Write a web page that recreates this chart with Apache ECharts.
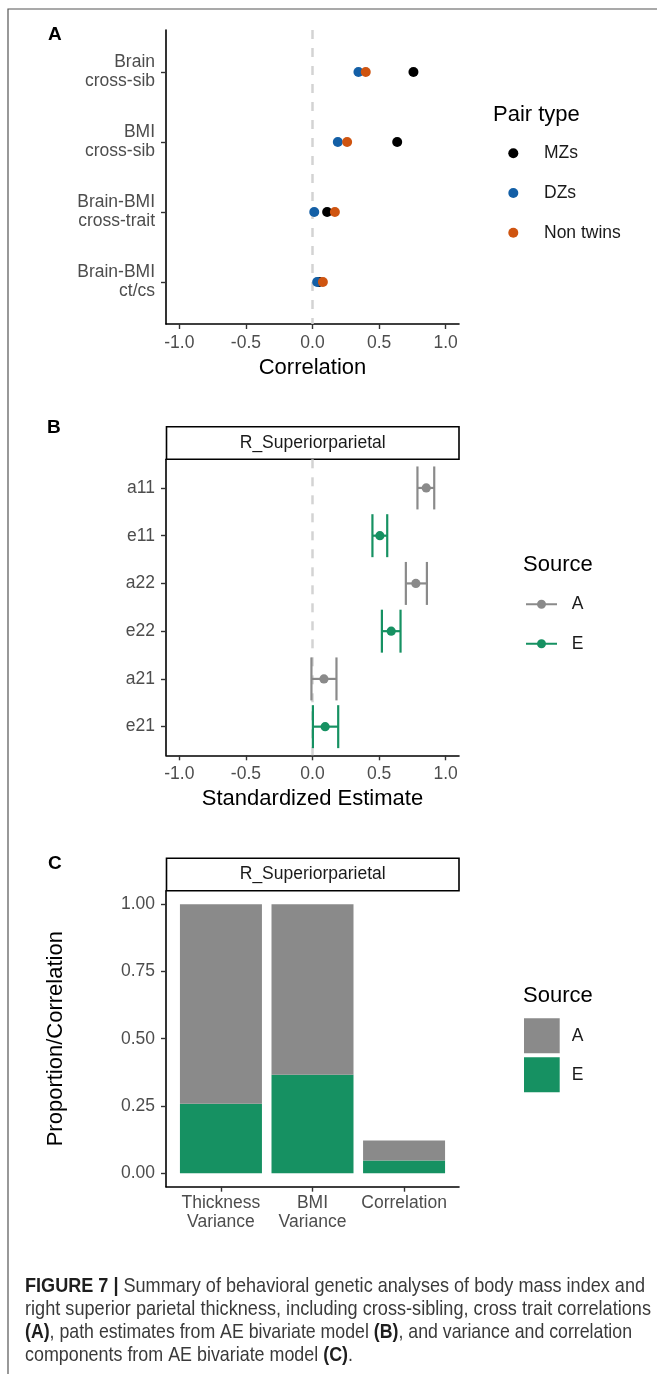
<!DOCTYPE html>
<html>
<head>
<meta charset="utf-8">
<script src="https://cdn.jsdelivr.net/npm/echarts@6/dist/echarts.min.js"></script>
<style>
  html, body { margin: 0; padding: 0; background: #fff; }
  #chart { width: 657px; height: 1374px; }
</style>
</head>
<body>
<div id="chart"></div>
<script>
// panel A: cross-sibling / cross-trait correlations
const aCats = ['Brain\ncross-sib', 'BMI\ncross-sib', 'Brain-BMI\ncross-trait', 'Brain-BMI\nct/cs'];
const mzVals = [0.758, 0.636, 0.11, 0.05];
const dzVals = [0.345, 0.19, 0.013, 0.035];
const ntVals = [0.40, 0.26, 0.168, 0.078];
const xTicks = [-1, -0.5, 0, 0.5, 1];

// panel B: path estimates with CIs
const bCats = ['a11', 'e11', 'a22', 'e22', 'a21', 'e21'];
const bSource = ['A', 'E', 'A', 'E', 'A', 'E'];
const bEst = [0.854, 0.506, 0.776, 0.591, 0.086, 0.095];
const bLow = [0.788, 0.45, 0.701, 0.521, -0.008, 0.003];
const bHigh = [0.914, 0.561, 0.859, 0.661, 0.18, 0.193];

// panel C: variance / correlation components
const cCats = ['Thickness\nVariance', 'BMI\nVariance', 'Correlation'];
const cE = [0.258, 0.366, 0.047];
const cA = [0.742, 0.634, 0.075];
const cTicks = [0, 0.25, 0.5, 0.75, 1];

const GRAY = '#8a8a8a';
const GREEN = '#169162';
const FONT = 'Liberation Sans, Arial, sans-serif';

var myChart = echarts.init(document.getElementById('chart'), null, { renderer: 'canvas' });

function baseAxis(gi, extra) {
    return Object.assign({
        gridIndex: gi,
        type: 'value',
        splitLine: { show: false },
        axisLine: { show: true, onZero: false, lineStyle: { color: '#000', width: 1.6 } },
        axisTick: { show: true, length: 5, lineStyle: { color: '#333', width: 1.4 } },
        axisLabel: { color: '#4d4d4d', fontSize: 17.5, fontFamily: FONT },
        nameTextStyle: { color: '#000', fontSize: 22, fontFamily: FONT }
    }, extra);
}

function xEstAxis(gi, name) {
    const ax = baseAxis(gi, { min: -1.1, max: 1.1, name: name, nameLocation: 'middle', nameGap: 33 });
    ax.axisTick.customValues = xTicks;
    ax.axisLabel = Object.assign({}, ax.axisLabel, { customValues: xTicks, margin: 10, formatter: v => v.toFixed(1) });
    return ax;
}

function catAxis(gi, cats, labelExtra) {
    const idx = cats.map((c, i) => i);
    const ax = baseAxis(gi, { min: -0.6, max: cats.length - 0.4 });
    ax.axisTick.customValues = idx;
    ax.axisLabel = Object.assign({}, ax.axisLabel, { customValues: idx, lineHeight: 19, formatter: v => cats[Math.round(v)] }, labelExtra);
    return ax;
}

const zeroLine = {
    silent: true,
    z: 1,
    symbol: 'none',
    label: { show: false },
    lineStyle: { color: '#d3d3d3', type: [9, 9], width: 2.5 },
    data: [{ xAxis: 0 }]
};

// error bar + point, drawn with the library scale
function errBar(color) {
    return function (params, api) {
        const y = api.value(3);
        const p = api.coord([api.value(0), y]);
        const lo = api.coord([api.value(1), y]);
        const hi = api.coord([api.value(2), y]);
        const h = Math.abs(api.size([0, 1])[1]) * 0.9;
        const ls = { stroke: color, lineWidth: 2.2 };
        return {
            type: 'group',
            children: [
                { type: 'line', shape: { x1: lo[0], y1: p[1], x2: hi[0], y2: p[1] }, style: ls },
                { type: 'line', shape: { x1: lo[0], y1: p[1] - h / 2, x2: lo[0], y2: p[1] + h / 2 }, style: ls },
                { type: 'line', shape: { x1: hi[0], y1: p[1] - h / 2, x2: hi[0], y2: p[1] + h / 2 }, style: ls },
                { type: 'circle', shape: { cx: p[0], cy: p[1], r: 4.6 }, style: { fill: color } }
            ]
        };
    };
}

function bRows(src) {
    const out = [];
    bCats.forEach((c, i) => {
        if (bSource[i] === src) out.push([bEst[i], bLow[i], bHigh[i], i]);
    });
    return out;
}

const lineDotIcon = 'path://M0,3.5L31,3.5L31,5.5L0,5.5Z M20,4.5A4.5,4.5,0,1,1,11,4.5A4.5,4.5,0,1,1,20,4.5Z';

const legendText = { color: '#1a1a1a', fontSize: 17.5, fontFamily: FONT, lineHeight: 20 };

// caption: condensed look, each line squeezed to its width in the reference
const CAP_SIZE = 21;
const CAP_FONT = 'Liberation Sans, Arial, sans-serif';
const capLines = [
    '{b|FIGURE 7 |} Summary of behavioral genetic analyses of body mass index and',
    'right superior parietal thickness, including cross-sibling, cross trait correlations',
    '{b|(A)}, path estimates from AE bivariate model {b|(B)}, and variance and correlation',
    'components from AE bivariate model {b|(C)}.'
];
const capWidths = [620, 626, 607, 328];
const ctx = document.createElement('canvas').getContext('2d');
function richWidth(t) {
    let w = 0;
    t.split(/(\{b\|[^}]*\})/).forEach(seg => {
        if (!seg) return;
        const bold = seg.startsWith('{b|');
        ctx.font = (bold ? 'bold ' : '') + CAP_SIZE + 'px ' + CAP_FONT;
        w += ctx.measureText(bold ? seg.slice(3, -1) : seg).width;
    });
    return w;
}

function caption(i) {
    const t = capLines[i];
    return {
        type: 'text', x: 25, y: 1286.7 + i * 22.9, scaleX: capWidths[i] / richWidth(t),
        style: {
            text: t, fill: '#3a3a3a', fontSize: CAP_SIZE, fontFamily: CAP_FONT,
            verticalAlign: 'middle',
            rich: { b: { fontWeight: 'bold', fill: '#1e1e1e', fontSize: CAP_SIZE, fontFamily: CAP_FONT } }
        }
    };
}

var option = {
    animation: false,
    backgroundColor: '#fff',
    textStyle: { fontFamily: FONT },
    grid: [
        { left: 166, top: 30, width: 293, height: 294, outerBoundsMode: 'none' },
        { left: 166, top: 459.3, width: 293, height: 296, outerBoundsMode: 'none' },
        { left: 166, top: 890.7, width: 293, height: 296, outerBoundsMode: 'none' }
    ],
    xAxis: [
        xEstAxis(0, 'Correlation'),
        xEstAxis(1, 'Standardized Estimate'),
        catAxis(2, cCats, { margin: 7 })
    ],
    yAxis: [
        Object.assign(catAxis(0, aCats, { margin: 11 }), { inverse: true }),
        Object.assign(catAxis(1, bCats, { margin: 11 }), { inverse: true }),
        (function () {
            const ax = baseAxis(2, { min: -0.05, max: 1.05, name: 'Proportion/Correlation', nameLocation: 'middle', nameGap: 99 });
            ax.axisTick.customValues = cTicks;
            ax.axisLabel = Object.assign({}, ax.axisLabel, { customValues: cTicks, margin: 11, formatter: v => v.toFixed(2) });
            return ax;
        })()
    ],
    legend: [
        {
            orient: 'vertical', left: 508.3, top: 143.3, padding: 0, itemGap: 19.7,
            itemWidth: 10, itemHeight: 10, icon: 'circle', selectedMode: false,
            textStyle: Object.assign({ padding: [0, 0, 0, 20.7] }, legendText),
            data: ['MZs', 'DZs', 'Non twins']
        },
        {
            orient: 'vertical', left: 526, top: 594.3, padding: 0, itemGap: 19.4,
            itemWidth: 31, itemHeight: 9, selectedMode: false,
            textStyle: Object.assign({ padding: [0, 0, 0, 9.7] }, legendText),
            data: [{ name: 'A', icon: lineDotIcon }, { name: 'E', icon: lineDotIcon }]
        },
        {
            orient: 'vertical', left: 524, top: 1018.3, padding: 0, itemGap: 4,
            itemWidth: 35.7, itemHeight: 35, selectedMode: false,
            textStyle: Object.assign({ padding: [0, 0, 0, 7] }, legendText),
            data: [{ name: 'A', icon: 'rect', itemStyle: { color: GRAY } }, { name: 'E', icon: 'rect', itemStyle: { color: GREEN } }]
        }
    ],
    series: [
        {
            name: 'MZs', type: 'scatter', xAxisIndex: 0, yAxisIndex: 0, symbolSize: 10,
            itemStyle: { color: '#000', opacity: 1 },
            data: mzVals.map((v, i) => [v, i]),
            markLine: zeroLine
        },
        {
            name: 'DZs', type: 'scatter', xAxisIndex: 0, yAxisIndex: 0, symbolSize: 10,
            itemStyle: { color: '#135fa6', opacity: 1 },
            data: dzVals.map((v, i) => [v, i])
        },
        {
            name: 'Non twins', type: 'scatter', xAxisIndex: 0, yAxisIndex: 0, symbolSize: 10,
            itemStyle: { color: '#cf5410', opacity: 1 },
            data: ntVals.map((v, i) => [v, i])
        },
        {
            name: 'A', type: 'custom', xAxisIndex: 1, yAxisIndex: 1,
            itemStyle: { color: GRAY },
            renderItem: errBar(GRAY),
            encode: { x: [0, 1, 2], y: 3 },
            data: bRows('A'),
            markLine: zeroLine,
            z: 3
        },
        {
            name: 'E', type: 'custom', xAxisIndex: 1, yAxisIndex: 1,
            itemStyle: { color: GREEN },
            renderItem: errBar(GREEN),
            encode: { x: [0, 1, 2], y: 3 },
            data: bRows('E'),
            z: 3
        },
        // value first in each row so the stack runs along y
        {
            name: 'E', type: 'bar', xAxisIndex: 2, yAxisIndex: 2, stack: 'c', barWidth: 82,
            itemStyle: { color: GREEN },
            encode: { x: 1, y: 0 },
            data: cE.map((v, i) => [v, i])
        },
        {
            name: 'A', type: 'bar', xAxisIndex: 2, yAxisIndex: 2, stack: 'c', barWidth: 82,
            itemStyle: { color: GRAY },
            encode: { x: 1, y: 0 },
            data: cA.map((v, i) => [v, i])
        }
    ],
    graphic: [
        { type: 'rect', shape: { x: 8, y: 9, width: 700, height: 1400 }, style: { fill: 'none', stroke: '#555', lineWidth: 1.2 }, silent: true },
        { type: 'text', x: 48, y: 35, style: { text: 'A', fontSize: 19, fontWeight: 'bold', fill: '#000', fontFamily: FONT, verticalAlign: 'middle' } },
        { type: 'text', x: 47, y: 428, style: { text: 'B', fontSize: 19, fontWeight: 'bold', fill: '#000', fontFamily: FONT, verticalAlign: 'middle' } },
        { type: 'text', x: 48, y: 864, style: { text: 'C', fontSize: 19, fontWeight: 'bold', fill: '#000', fontFamily: FONT, verticalAlign: 'middle' } },
        { type: 'text', x: 493, y: 115, style: { text: 'Pair type', fontSize: 22, fill: '#000', fontFamily: FONT, verticalAlign: 'middle' } },
        { type: 'text', x: 523, y: 565, style: { text: 'Source', fontSize: 22, fill: '#000', fontFamily: FONT, verticalAlign: 'middle' } },
        { type: 'text', x: 523, y: 996, style: { text: 'Source', fontSize: 22, fill: '#000', fontFamily: FONT, verticalAlign: 'middle' } },
        { type: 'rect', shape: { x: 166.5, y: 426.7, width: 292.5, height: 32.6 }, style: { fill: '#fff', stroke: '#000', lineWidth: 1.6 } },
        { type: 'text', x: 312.7, y: 443, style: { text: 'R_Superiorparietal', fontSize: 17.5, fill: '#1a1a1a', fontFamily: FONT, align: 'center', verticalAlign: 'middle' } },
        { type: 'rect', shape: { x: 166.5, y: 858.3, width: 292.5, height: 32.4 }, style: { fill: '#fff', stroke: '#000', lineWidth: 1.6 } },
        { type: 'text', x: 312.7, y: 874.5, style: { text: 'R_Superiorparietal', fontSize: 17.5, fill: '#1a1a1a', fontFamily: FONT, align: 'center', verticalAlign: 'middle' } }
    ].concat(capLines.map((t, i) => caption(i)))
};

myChart.setOption(option);
</script>
</body>
</html>
